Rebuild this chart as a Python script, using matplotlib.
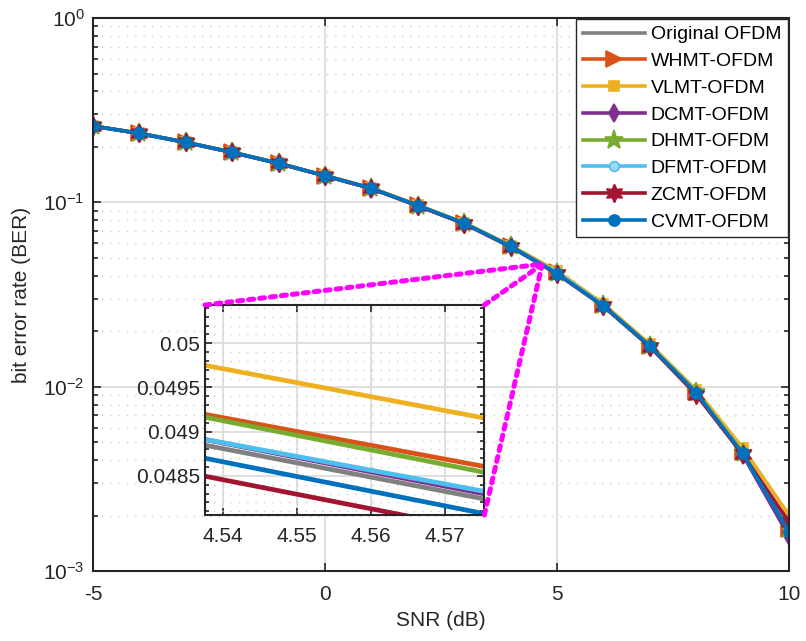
import numpy as np
import matplotlib
matplotlib.use("Agg")
import matplotlib.pyplot as plt
from matplotlib.patches import ConnectionPatch
from matplotlib.ticker import FixedLocator, NullFormatter, MultipleLocator

plt.rcParams['font.family'] = ['Liberation Sans', 'DejaVu Sans']
plt.rcParams['mathtext.fontset'] = 'custom'
plt.rcParams['mathtext.rm'] = 'Liberation Sans'
plt.rcParams['mathtext.it'] = 'Liberation Sans:italic'
plt.rcParams['axes.unicode_minus'] = False

snr = [-5, -4, -3, -2, -1, 0, 1, 2, 3, 4, 5, 6, 7, 8, 9, 10]

ber_original = [0.2595, 0.2366, 0.2116, 0.1867, 0.1627, 0.1394, 0.1190, 0.0960, 0.0769, 0.05753, 0.04138, 0.0275, 0.0166, 0.00925, 0.00432, 0.00162]
ber_whmt     = [0.2597, 0.2368, 0.2118, 0.1869, 0.1629, 0.1396, 0.1192, 0.0962, 0.0771, 0.05761, 0.04196, 0.0277, 0.0167, 0.00935, 0.00440, 0.00168]
ber_vlmt     = [0.2600, 0.2371, 0.2121, 0.1872, 0.1632, 0.1399, 0.1195, 0.0966, 0.0775, 0.05825, 0.04244, 0.0281, 0.0170, 0.00960, 0.00465, 0.00201]
ber_dcmt     = [0.2593, 0.2364, 0.2114, 0.1865, 0.1625, 0.1392, 0.1188, 0.0958, 0.0767, 0.05768, 0.04137, 0.0274, 0.0165, 0.00920, 0.00428, 0.00154]
ber_dhmt     = [0.2596, 0.2367, 0.2117, 0.1868, 0.1628, 0.1395, 0.1191, 0.0961, 0.0770, 0.05805, 0.04152, 0.0276, 0.0167, 0.00935, 0.00438, 0.00170]
ber_dfmt     = [0.2595, 0.2366, 0.2116, 0.1867, 0.1627, 0.1394, 0.1190, 0.0960, 0.0769, 0.05730, 0.04170, 0.0276, 0.0166, 0.00928, 0.00435, 0.00166]
ber_zcmt     = [0.2594, 0.2365, 0.2115, 0.1866, 0.1626, 0.1393, 0.1189, 0.0958, 0.0766, 0.05734, 0.04089, 0.0273, 0.0165, 0.00905, 0.00430, 0.00184]
ber_cvmt     = [0.2595, 0.2366, 0.2116, 0.1867, 0.1627, 0.1394, 0.1190, 0.0960, 0.0769, 0.05764, 0.04101, 0.0274, 0.0166, 0.00927, 0.00434, 0.00163]

labels = ['Original OFDM', 'WHMT-OFDM', 'VLMT-OFDM', 'DCMT-OFDM',
          'DHMT-OFDM', 'DFMT-OFDM', 'ZCMT-OFDM', 'CVMT-OFDM']
series = [ber_original, ber_whmt, ber_vlmt, ber_dcmt, ber_dhmt, ber_dfmt, ber_zcmt, ber_cvmt]
colors = ['#808080', '#D95319', '#EDB120', '#7E2F8E', '#77AC30', '#4DBEEE', '#A2142F', '#0072BD']
markers = [None, '>', 's', 'd', '*', 'o', (6, 1, 0), 'o']
msizes = [0, 11, 7, 9, 14, 7, 13, 8]
mfaces = [None, '#D95319', '#EDB120', '#7E2F8E', '#77AC30', '#9AD8F3', '#A2142F', '#0072BD']

txt = '#262626'
fs = 15
fig = plt.figure(figsize=(8.06, 6.41), dpi=100)
ax = fig.add_axes([0.1154, 0.1092, 0.8636, 0.8627])

for y, c, m, ms, mf, lab in zip(series, colors, markers, msizes, mfaces, labels):
    if m is None:
        ax.plot(snr, y, color=c, lw=2.6, label=lab)
    else:
        ax.plot(snr, y, color=c, lw=2.6, marker=m, ms=ms, mfc=mf, mec=c, mew=1.2, label=lab)

ax.set_yscale('log')
ax.set_xlim(-5, 10)
ax.set_ylim(1e-3, 1)
ax.set_xticks([-5, 0, 5, 10])
ax.set_xticklabels(['-5', '0', '5', '10'])
ax.set_yticks([1e-3, 1e-2, 1e-1, 1])
ax.set_yticklabels([r'$10^{-3}$', r'$10^{-2}$', r'$10^{-1}$', r'$10^{0}$'])
minors = [k * 10.0 ** e for e in (-3, -2, -1) for k in range(2, 10)]
ax.yaxis.set_minor_locator(FixedLocator(minors))
ax.yaxis.set_minor_formatter(NullFormatter())
ax.tick_params(which='both', direction='in', top=True, right=True, colors=txt, labelsize=fs, width=1.2)
ax.tick_params(which='major', length=6)
ax.tick_params(which='minor', length=3.5)
ax.tick_params(axis='x', pad=10)
ax.tick_params(axis='y', pad=6)
ax.grid(True, which='major', color='#d9d9d9', lw=1.2, ls='-')
ax.grid(True, which='minor', axis='y', color='#cccccc', lw=1.0, ls=(0, (1, 5)))
for s in ax.spines.values():
    s.set_color(txt)
    s.set_linewidth(1.5)
ax.set_xlabel('SNR (dB)', fontsize=fs, color=txt, labelpad=5)
ax.set_ylabel('bit error rate (BER)', fontsize=fs, color=txt, labelpad=9)

leg = ax.legend(loc='upper right', fontsize=14, fancybox=False, framealpha=1,
                edgecolor=txt, borderaxespad=0.05, handlelength=3.2,
                handletextpad=0.3, labelspacing=0.47, borderpad=0.35)
leg.get_frame().set_linewidth(1.0)

# inset
axin = fig.add_axes([0.2543, 0.1966, 0.3466, 0.3276])
for y, c in zip(series, colors):
    axin.plot(snr, y, color=c, lw=3.4)
axin.set_xlim(4.5376, 4.5753)
axin.set_ylim(0.048058, 0.050433)
axin.set_xticks([4.54, 4.55, 4.56, 4.57])
axin.set_xticklabels(['4.54', '4.55', '4.56', '4.57'])
axin.set_yticks([0.0485, 0.049, 0.0495, 0.05])
axin.set_yticklabels(['0.0485', '0.049', '0.0495', '0.05'])
axin.yaxis.set_minor_locator(MultipleLocator(0.0001))
axin.tick_params(which='both', direction='in', top=True, right=True, colors=txt, labelsize=fs, width=1.2)
axin.tick_params(which='major', length=5)
axin.tick_params(which='minor', length=3)
axin.tick_params(axis='x', pad=9)
axin.grid(True, which='major', color='#d9d9d9', lw=1.2, ls='-')
axin.grid(True, which='minor', axis='y', color='#cccccc', lw=1.0, ls=(0, (1, 5)))
for s in axin.spines.values():
    s.set_color(txt)
    s.set_linewidth(1.5)

targets = [((0, 1), (4.655, 0.0462)), ((1, 1), (4.665, 0.0458)), ((1, 0), (4.675, 0.0454))]
for (pa, pb) in targets:
    con = ConnectionPatch(xyA=pa, coordsA=axin.transAxes, xyB=pb, coordsB=ax.transData,
                          color='#FF00FF', lw=3.6, ls=(0, (1, 1.2)), zorder=5)
    fig.add_artist(con)

fig.savefig('out.png', dpi=100)
